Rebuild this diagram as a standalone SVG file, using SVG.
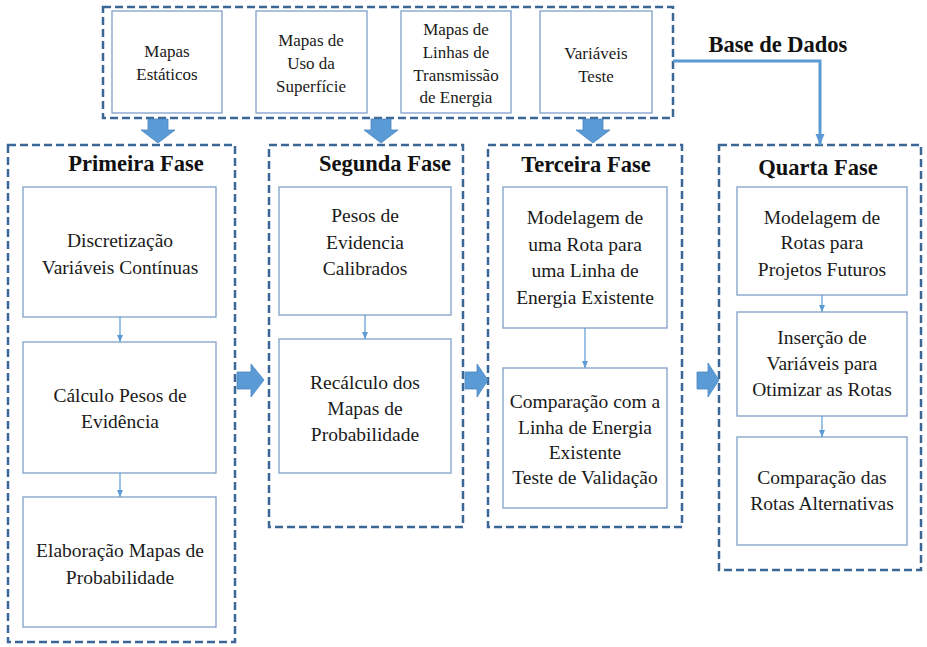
<svg xmlns="http://www.w3.org/2000/svg" width="927" height="647" viewBox="0 0 927 647">
<style>
.dash{fill:none;stroke:#3A6795;stroke-width:2.5;stroke-dasharray:8 4}
.box{fill:#fff;stroke:#7F9FC6;stroke-width:1.3}
text{font-family:'Liberation Serif','Times New Roman',serif;fill:#1a1a1a;text-anchor:middle}
.t{font-size:19.5px}
.s{font-size:17px}
.h{font-size:22.5px;font-weight:bold;fill:#111}
.big{fill:#5B9BD5;stroke:#4A86C0;stroke-width:0.8}
.thin{stroke:#5B9BD5;stroke-width:1.2;fill:none}
</style>
<defs>
<marker id="sm" markerWidth="8" markerHeight="8" refX="7" refY="4" orient="auto" markerUnits="userSpaceOnUse">
<path d="M0,1 L7,4 L0,7 Z" fill="#5B9BD5"/>
</marker>
<marker id="md" markerWidth="12" markerHeight="12" refX="11" refY="6" orient="auto" markerUnits="userSpaceOnUse">
<path d="M0,1.5 L11,6 L0,10.5 Z" fill="#5B9BD5"/>
</marker>
</defs>
<rect width="927" height="647" fill="#fff"/>

<g id="base-dados">
<rect class="dash" x="103" y="7" width="570" height="111"/>
<text class="h" x="778" y="52">Base de Dados</text>
</g>
<g id="mapas-estaticos">
<rect class="box" x="112" y="11" width="110" height="102"/>
<text class="s" x="167" y="57">Mapas</text>
<text class="s" x="167" y="80">Estáticos</text>
</g>
<g id="mapas-uso">
<rect class="box" x="256" y="11" width="111" height="102"/>
<text class="s" x="311" y="46">Mapas de</text>
<text class="s" x="311" y="69">Uso da</text>
<text class="s" x="311" y="92">Superfície</text>
</g>
<g id="mapas-linhas">
<rect class="box" x="401" y="11" width="110" height="102"/>
<text class="s" x="456" y="35">Mapas de</text>
<text class="s" x="456" y="58">Linhas de</text>
<text class="s" x="456" y="81">Transmissão</text>
<text class="s" x="456" y="103">de Energia</text>
</g>
<g id="variaveis-teste">
<rect class="box" x="540" y="11" width="112" height="102"/>
<text class="s" x="596" y="59">Variáveis</text>
<text class="s" x="596" y="82">Teste</text>
</g>

<g id="primeira-fase">
<rect class="dash" x="8" y="145" width="227" height="497"/>
<text class="h" x="136" y="171">Primeira Fase</text>
<rect class="box" x="23" y="187" width="193" height="130"/>
<text class="t" x="120" y="247">Discretização</text>
<text class="t" x="120" y="274">Variáveis Contínuas</text>
<rect class="box" x="23" y="342" width="193" height="131"/>
<text class="t" x="120" y="402">Cálculo Pesos de</text>
<text class="t" x="120" y="428">Evidência</text>
<rect class="box" x="23" y="497" width="193" height="130"/>
<text class="t" x="120" y="557">Elaboração Mapas de</text>
<text class="t" x="120" y="584">Probabilidade</text>
</g>

<g id="segunda-fase">
<rect class="dash" x="269" y="145" width="194" height="382"/>
<text class="h" x="385" y="171">Segunda Fase</text>
<rect class="box" x="279" y="187" width="172" height="128"/>
<text class="t" x="365" y="222">Pesos de</text>
<text class="t" x="365" y="249">Evidencia</text>
<text class="t" x="365" y="275">Calibrados</text>
<rect class="box" x="279" y="339" width="172" height="134"/>
<text class="t" x="365" y="389">Recálculo dos</text>
<text class="t" x="365" y="415">Mapas de</text>
<text class="t" x="365" y="441">Probabilidade</text>
</g>

<g id="terceira-fase">
<rect class="dash" x="488" y="145" width="194" height="382"/>
<text class="h" x="586" y="172">Terceira Fase</text>
<rect class="box" x="503" y="187" width="164" height="141"/>
<text class="t" x="585" y="224">Modelagem de</text>
<text class="t" x="585" y="251">uma Rota para</text>
<text class="t" x="585" y="277">uma Linha de</text>
<text class="t" x="585" y="304">Energia Existente</text>
<rect class="box" x="503" y="368" width="164" height="140"/>
<text class="t" x="585" y="408">Comparação com a</text>
<text class="t" x="585" y="434">Linha de Energia</text>
<text class="t" x="585" y="459">Existente</text>
<text class="t" x="585" y="484">Teste de Validação</text>
</g>

<g id="quarta-fase">
<rect class="dash" x="719" y="145" width="202" height="425"/>
<text class="h" x="818" y="175">Quarta Fase</text>
<rect class="box" x="737" y="187" width="170" height="108"/>
<text class="t" x="822" y="224">Modelagem de</text>
<text class="t" x="822" y="249">Rotas para</text>
<text class="t" x="822" y="276">Projetos Futuros</text>
<rect class="box" x="737" y="312" width="170" height="104"/>
<text class="t" x="822" y="344">Inserção de</text>
<text class="t" x="822" y="370">Variáveis para</text>
<text class="t" x="822" y="396">Otimizar as Rotas</text>
<rect class="box" x="737" y="437" width="170" height="108"/>
<text class="t" x="822" y="484">Comparação das</text>
<text class="t" x="822" y="510">Rotas Alternativas</text>
</g>

<g id="connectors">
<polyline points="673,61 820,61 820,145" fill="none" stroke="#5B9BD5" stroke-width="3" marker-end="url(#md)"/>
<path class="big" d="M148,119 H168 V130 H175 L158,143 L141,130 H148 Z"/>
<path class="big" d="M371,119 H391 V130 H398 L381,143 L364,130 H371 Z"/>
<path class="big" d="M583,119 H603 V130 H610 L593,143 L576,130 H583 Z"/>
<path class="big" d="M237,372 H251 V364 L264,380 L251,397 V389 H237 Z"/>
<path class="big" d="M465,372 H477 V364 L488,380 L477,397 V389 H465 Z"/>
<path class="big" d="M697,372 H708 V363 L719,380 L708,397 V389 H697 Z"/>
<line class="thin" x1="120" y1="317" x2="120" y2="342" marker-end="url(#sm)"/>
<line class="thin" x1="120" y1="473" x2="120" y2="497" marker-end="url(#sm)"/>
<line class="thin" x1="365" y1="315" x2="365" y2="339" marker-end="url(#sm)"/>
<line class="thin" x1="585" y1="328" x2="585" y2="368" marker-end="url(#sm)"/>
<line class="thin" x1="822" y1="295" x2="822" y2="312" marker-end="url(#sm)"/>
<line class="thin" x1="822" y1="416" x2="822" y2="437" marker-end="url(#sm)"/>
</g>
</svg>
